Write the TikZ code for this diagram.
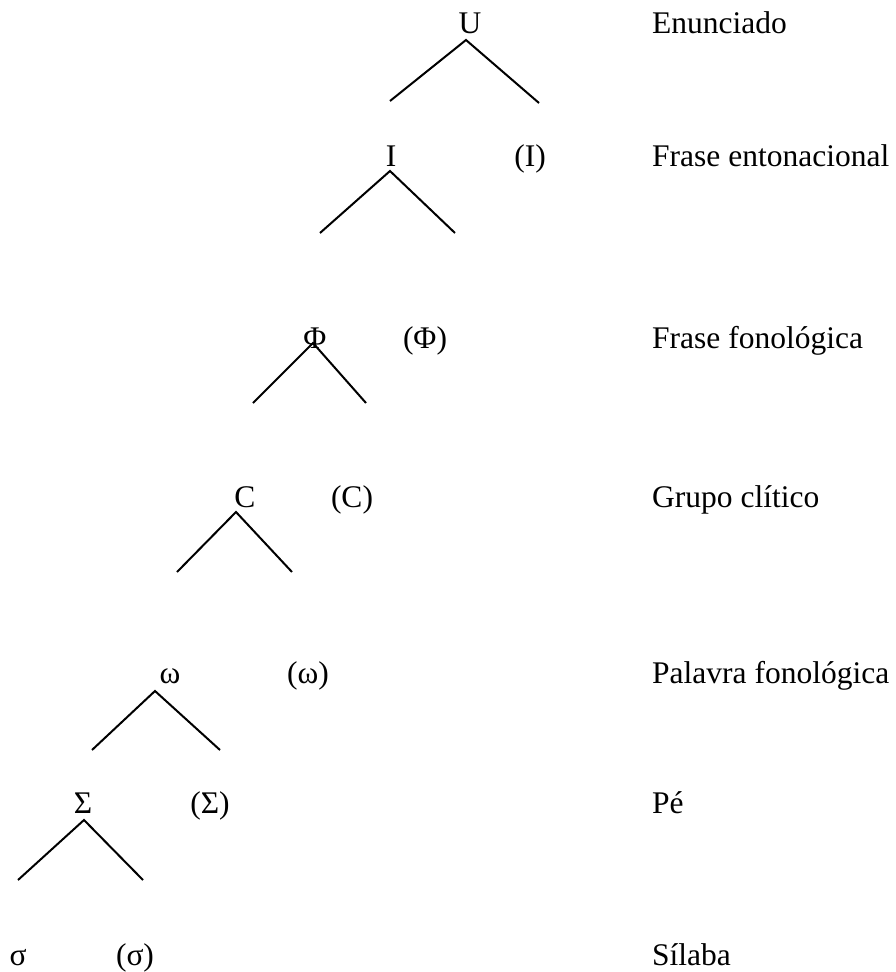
\documentclass[tikz,border=0pt]{standalone}
\usepackage{fontspec}
\setmainfont{Liberation Serif}
\begin{document}
\begin{tikzpicture}[x=1pt,y=-1pt,
  lvl/.style={anchor=base,inner sep=0pt,font=\fontsize{31.5}{36}\selectfont},
  lname/.style={anchor=base west,inner sep=0pt,font=\fontsize{31.5}{36}\selectfont},
  branch/.style={line width=2pt,line join=miter}]
\useasboundingbox (0,0) rectangle (896,972);

% level symbols
\node[lvl] (U) at (470,33) {U};
\node[lvl] (I) at (391,166) {I};
\node[lvl] (Io) at (530,166) {(I)};
\node[lvl] (F) at (315,348) {Φ};
\node[lvl] (Fo) at (425,348) {(Φ)};
\node[lvl] (C) at (245,507) {C};
\node[lvl] (Co) at (352,507) {(C)};
\node[lvl] (W) at (170,683) {ω};
\node[lvl] (Wo) at (308,683) {(ω)};
\node[lvl] (S) at (83,813) {Σ};
\node[lvl] (So) at (210,813) {(Σ)};
\node[lvl] (s) at (18,965) {σ};
\node[lvl] (so) at (135,965) {(σ)};

% level names
\node[lname] (nU) at (652,33) {Enunciado};
\node[lname] (nI) at (652,166) {Frase entonacional};
\node[lname] (nF) at (652,348) {Frase fonológica};
\node[lname] (nC) at (652,507) {Grupo clítico};
\node[lname] (nW) at (652,683) {Palavra fonológica};
\node[lname] (nS) at (652,813) {Pé};
\node[lname] (ns) at (652,965) {Sílaba};

% branching points
\coordinate (Ut) at (466,40);  \coordinate (Ul) at (390,101); \coordinate (Ur) at (539,103);
\coordinate (It) at (390,171); \coordinate (Il) at (320,233); \coordinate (Ir) at (455,233);
\coordinate (Ft) at (313,343); \coordinate (Fl) at (253,403); \coordinate (Fr) at (366,403);
\coordinate (Ct) at (236,512); \coordinate (Cl) at (177,572); \coordinate (Cr) at (292,572);
\coordinate (Wt) at (155,691); \coordinate (Wl) at (92,750);  \coordinate (Wr) at (220,750);
\coordinate (St) at (84,820);  \coordinate (Sl) at (18,880);  \coordinate (Sr) at (143,880);

\foreach \n in {U,I,F,C,W,S}
  \draw[branch] (\n l) -- (\n t) -- (\n r);
\end{tikzpicture}
\end{document}
